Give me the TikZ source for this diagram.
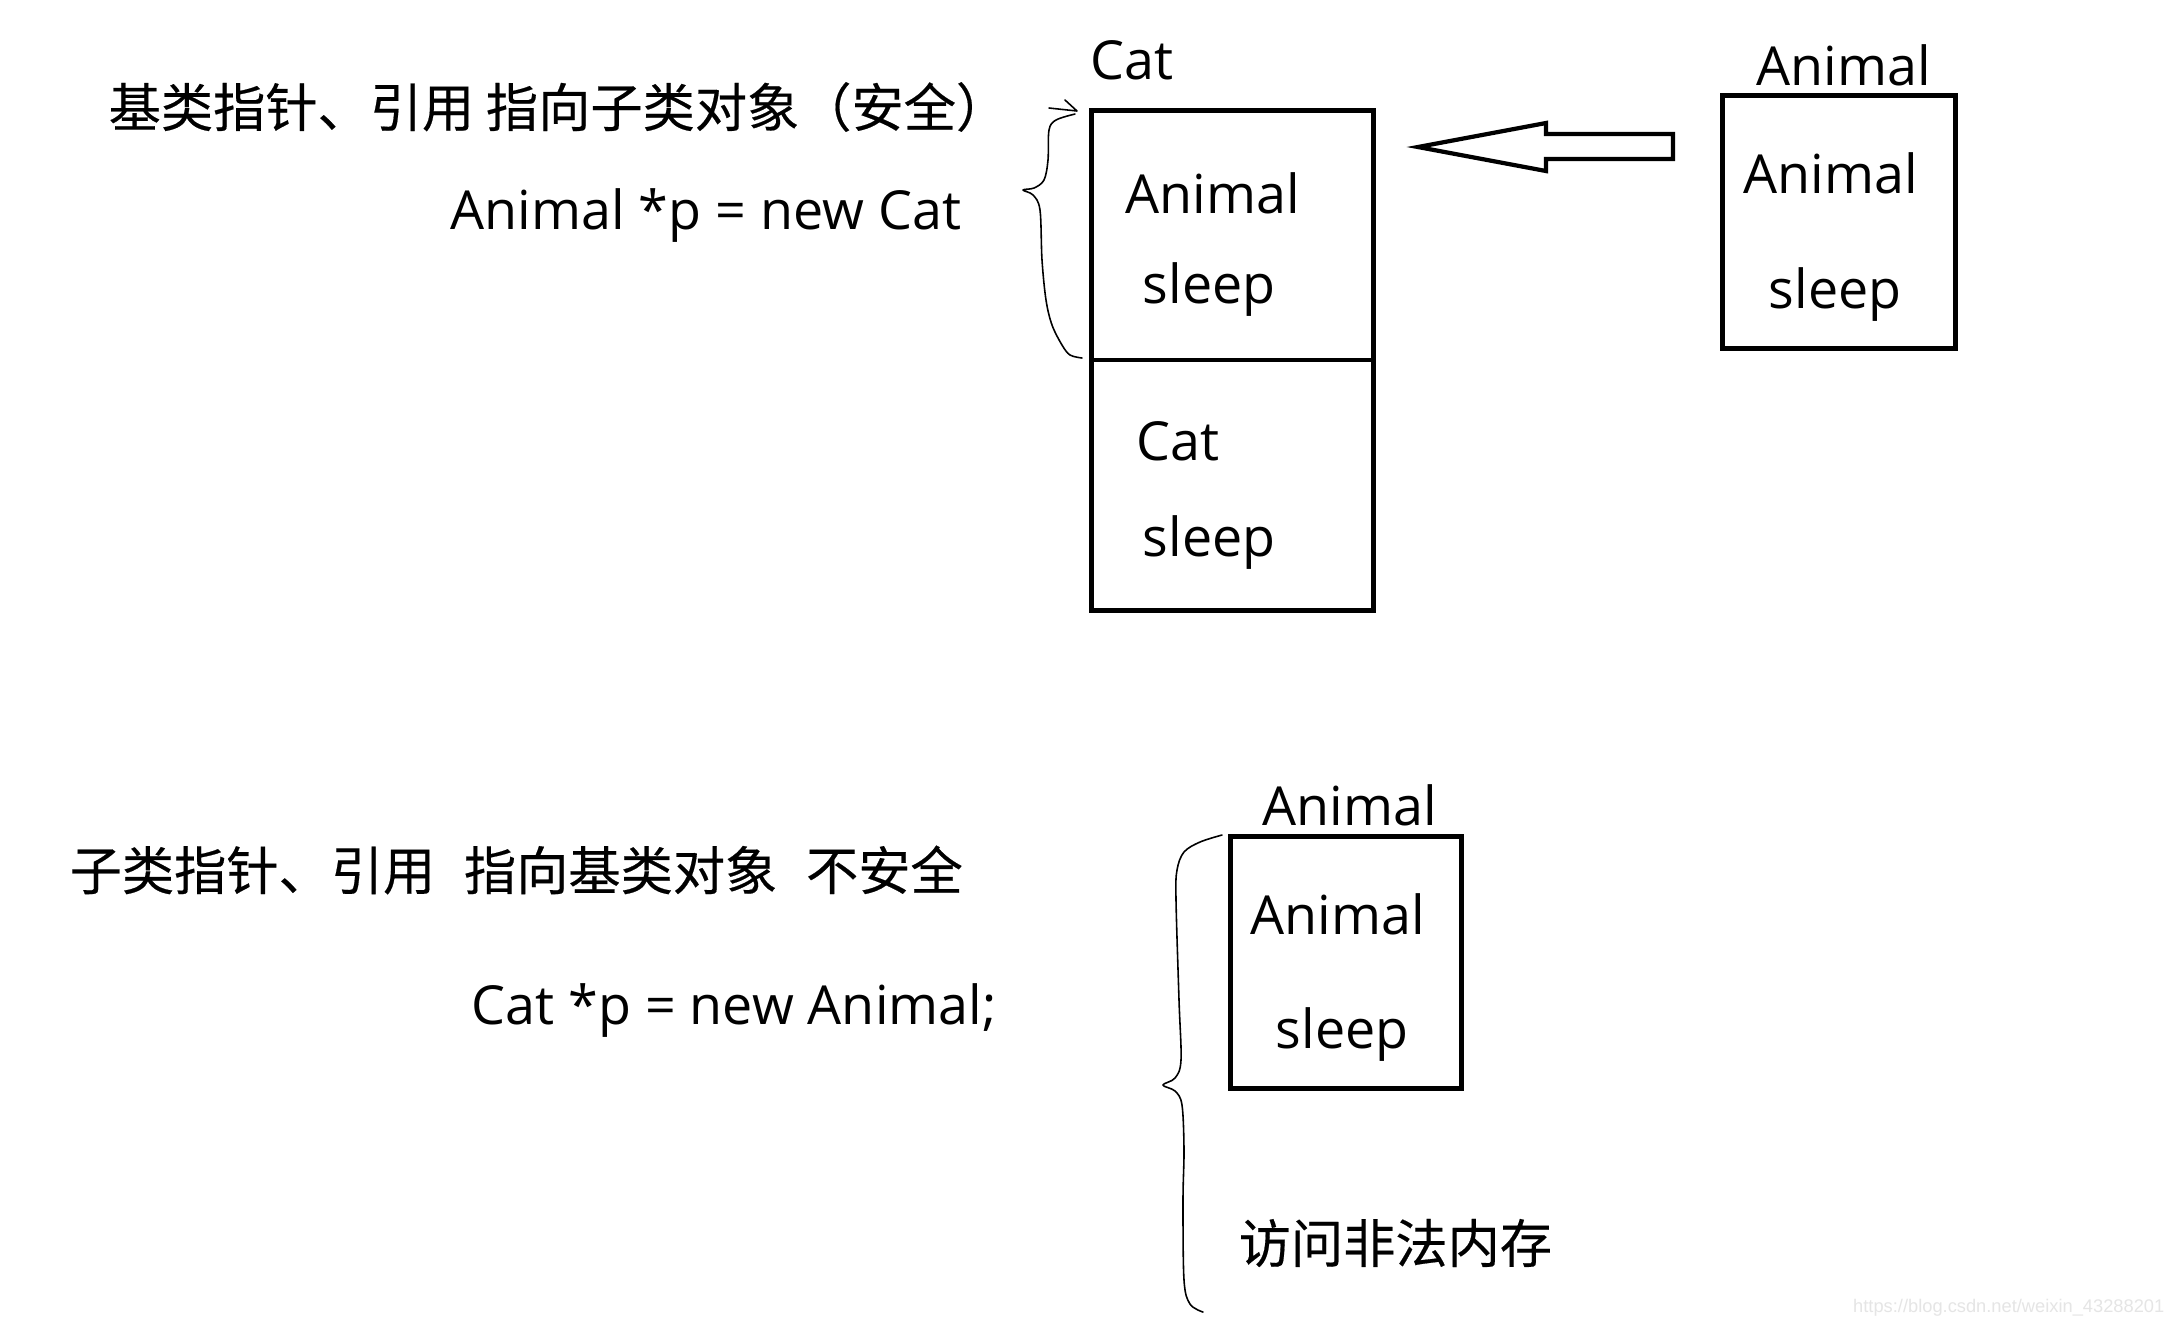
\documentclass[tikz,border=0pt]{standalone}
\usepackage{fontspec}
\setmainfont{Open Sans}
\newfontfamily\cjk[FakeBold=0.35]{Noto Sans CJK SC}
\newfontfamily\wmfont{Liberation Sans}
\begin{document}
\begin{tikzpicture}[x=0.01cm,y=-0.01cm,
  box/.style={draw, line width=1.3pt, inner sep=0pt, anchor=north west},
  lat/.style={inner sep=0pt, anchor=base west, font=\fontsize{15.3}{18}\selectfont},
  zh/.style={inner sep=0pt, anchor=west, font=\fontsize{14.85}{18}\selectfont\cjk},
  brace/.style={line width=0.45pt, line join=round, line cap=round},
  bigarrow/.style={line width=1.2pt, line join=miter}]
\useasboundingbox (0,0) rectangle (2173,1323);
\fill[white] (0,0) rectangle (2173,1323);

% top: Cat object
\node[box, minimum width=2.82cm, minimum height=5.00cm] (catbox) at (1089,108) {};
\coordinate (divL) at (1089,360);
\coordinate (divR) at (1374,360);
\draw[line width=1.3pt] (divL) -- (divR);
\node[lat] (catlbl) at (1090,79) {Cat};
\node[lat] (c1) at (1125,213) {Animal};
\node[lat] (c2) at (1142,303) {sleep};
\node[lat] (c3) at (1136,460) {Cat};
\node[lat] (c4) at (1142,556) {sleep};

% right: Animal object
\node[box, minimum width=2.33cm, minimum height=2.53cm] (animbox) at (1720,93) {};
\node[lat] (albl) at (1756,85) {Animal};
\node[lat] (a1) at (1743,193) {Animal};
\node[lat] (a2) at (1768,308) {sleep};

% hollow arrow
\draw[bigarrow] (1418,147) -- (1546,123) -- (1546,134) -- (1673,134) -- (1673,159) -- (1546,159) -- (1546,171) -- cycle;

% top brace with small arrow
\draw[brace] plot[smooth, tension=0.55] coordinates {(1075,114) (1056,120) (1049,130) (1048,160) (1044,180) (1034,188) (1023,190) (1033,195) (1040,210) (1042,260) (1046,300) (1052,325) (1062,345) (1070,355) (1082,358)};
\draw[brace] (1049,108) -- (1077,111) -- (1065,100);

% texts top
\node[zh] (h1) at (108,107) {基类指针、引用 指向子类对象（安全）};
\node[lat] (code1) at (450,229) {Animal *p = new Cat};

% bottom
\node[zh] (h2) at (69,870) {子类指针、引用\hspace{0.55em}指向基类对象\hspace{0.55em}不安全};
\node[lat] (code2) at (471,1024) {Cat *p = new Animal;};

\node[box, minimum width=2.31cm, minimum height=2.52cm] (bbox) at (1228,834) {};
\node[lat] (blbl) at (1262,825) {Animal};
\node[lat] (b1) at (1250,934) {Animal};
\node[lat] (b2) at (1275,1048) {sleep};

\draw[brace] plot[smooth, tension=0.55] coordinates {(1222,835) (1200,842) (1184,852) (1177,870) (1176,900) (1179,1000) (1181,1060) (1175,1078) (1163,1085) (1175,1091) (1182,1105) (1184,1150) (1183,1200) (1184,1280) (1190,1304) (1203,1312)};

\node[zh] (mem) at (1238,1243) {访问非法内存};

% watermark
\node[inner sep=0pt, anchor=base east, font=\fontsize{5.2}{6}\selectfont\wmfont, text=black!10] (wm) at (2165,1312) {https://blog.csdn.net/weixin\_43288201};
\end{tikzpicture}
\end{document}
